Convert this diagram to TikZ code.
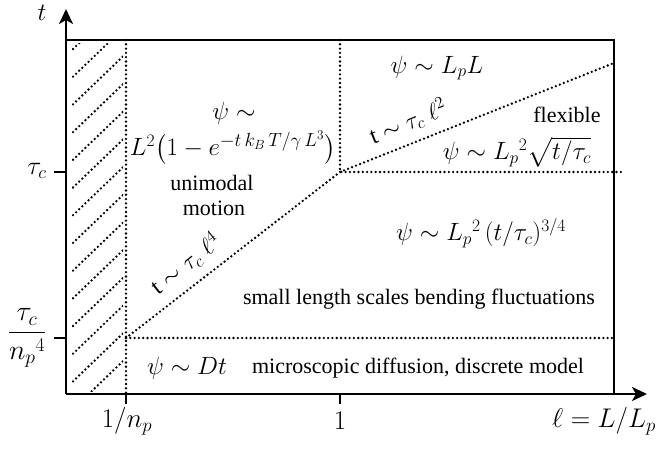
\RequirePackage{fix-cm}
\documentclass[tikz,border=0pt]{standalone}
\usepackage{amsmath}
\usepackage{fontspec}
\setmainfont{Liberation Serif}
\usetikzlibrary{arrows.meta}
\begin{document}
\begin{tikzpicture}[x=1pt,y=-1pt,
  axis/.style={line width=2.4pt},
  arr/.style={-{Stealth[length=15pt,width=14pt,inset=4pt]}},
  dots/.style={line width=2.6pt, dash pattern=on 0pt off 4.3pt, line cap=round},
  lbl/.style={inner sep=0pt, font=\fontsize{22}{26}\selectfont},
  mth/.style={inner sep=0pt, font=\fontsize{25}{30}\selectfont},
  big/.style={inner sep=0pt, font=\fontsize{27}{32}\selectfont},
  slp/.style={inner sep=0pt, font=\fontsize{24}{28}\selectfont},
]
\useasboundingbox (0,0) rectangle (657,449);
% key points
\coordinate (O) at (66,394);
\coordinate (Ytip) at (66,9);
\coordinate (Xtip) at (647,394);
\coordinate (TL) at (66,40);
\coordinate (TR) at (614,40);
\coordinate (BR) at (614,394);
\coordinate (A) at (126,40);
\coordinate (B) at (126,394);
\coordinate (C) at (340,40);
\coordinate (D) at (340,172);
\coordinate (E) at (621,172);
\coordinate (F) at (126,338);
\coordinate (G) at (614,338);
\coordinate (H) at (614,63);
\coordinate (T1a) at (54,172);
\coordinate (T1b) at (66,172);
\coordinate (T2a) at (54,338);
\coordinate (T2b) at (66,338);
\coordinate (T3a) at (126,394);
\coordinate (T3b) at (126,404);
\coordinate (T4a) at (340,394);
\coordinate (T4b) at (340,404);
% hatch
\begin{scope}
  \clip (72,43.5) rectangle (123,391.5);
  \foreach \k in {-1,0,...,13}{
    \draw[dots] (73,49+27.7*\k) -- ++(50,-48);
  }
\end{scope}
% dotted boundaries
\draw[dots] (A) -- (B);
\draw[dots] (C) -- (D) -- (E);
\draw[dots] (F) -- (G);
\draw[dots] (F) -- (D) -- (H);
% axes and box
\draw[axis] (TL) -- (TR) -- (BR);
\draw[axis,arr] (O) -- (Ytip);
\draw[axis,arr] (O) -- (Xtip);
\draw[axis] (T1a) -- (T1b);
\draw[axis] (T2a) -- (T2b);
\draw[axis] (T3a) -- (T3b);
\draw[axis] (T4a) -- (T4b);
% sloped labels
\node[slp, rotate=38] (l4) at (186,264) {t $\sim \tau_c\;\ell^4$};
\node[slp, rotate=21.7] (l2) at (408,122) {t $\sim \tau_c\;\ell^2$};
% axis labels
\node[mth] (tl) at (42,13) {$t$};
\node[font=\fontsize{26}{30}\selectfont, inner sep=0pt] (tc) at (37,171) {$\tau_c$};
\node[font=\fontsize{28}{32}\selectfont, inner sep=0pt] (tcn) at (27,338) {$\dfrac{\tau_c}{n_p{}^4}$};
\node[big] (x1) at (127,421) {$1/n_p$};
\node[big] (x2) at (340,421) {$1$};
\node[big] (xl) at (604,421) {$\ell = L/L_p$};
% region labels
\node[mth] (psi1) at (234,113) {$\psi\sim$};
\node[mth] (psi1b) at (233,148) {$L^2\bigl(1-e^{\mbox{\fontsize{19}{19}\selectfont$-t\,k_B\,T/\gamma\,L^3$}}\bigr)$};
\node[lbl] (uni) at (212,183) {unimodal};
\node[lbl] (mot) at (214,208) {motion};
\node[mth] (psi2) at (437,68) {$\psi\sim L_p L$};
\node[lbl] (flex) at (567,115) {flexible};
\node[mth] (psi3) at (517,152) {$\psi\sim L_p{}^2\sqrt{t/\tau_c}$};
\node[mth] (psi4) at (481,233) {$\psi\sim L_p{}^2\,(t/\tau_c)^{3/4}$};
\node[lbl] (small) at (419,299) {small length scales bending fluctuations};
\node[mth] (psiD) at (187,368) {$\psi\sim Dt$};
\node[lbl] (micro) at (418,368) {microscopic diffusion, discrete model};
\end{tikzpicture}
\end{document}
